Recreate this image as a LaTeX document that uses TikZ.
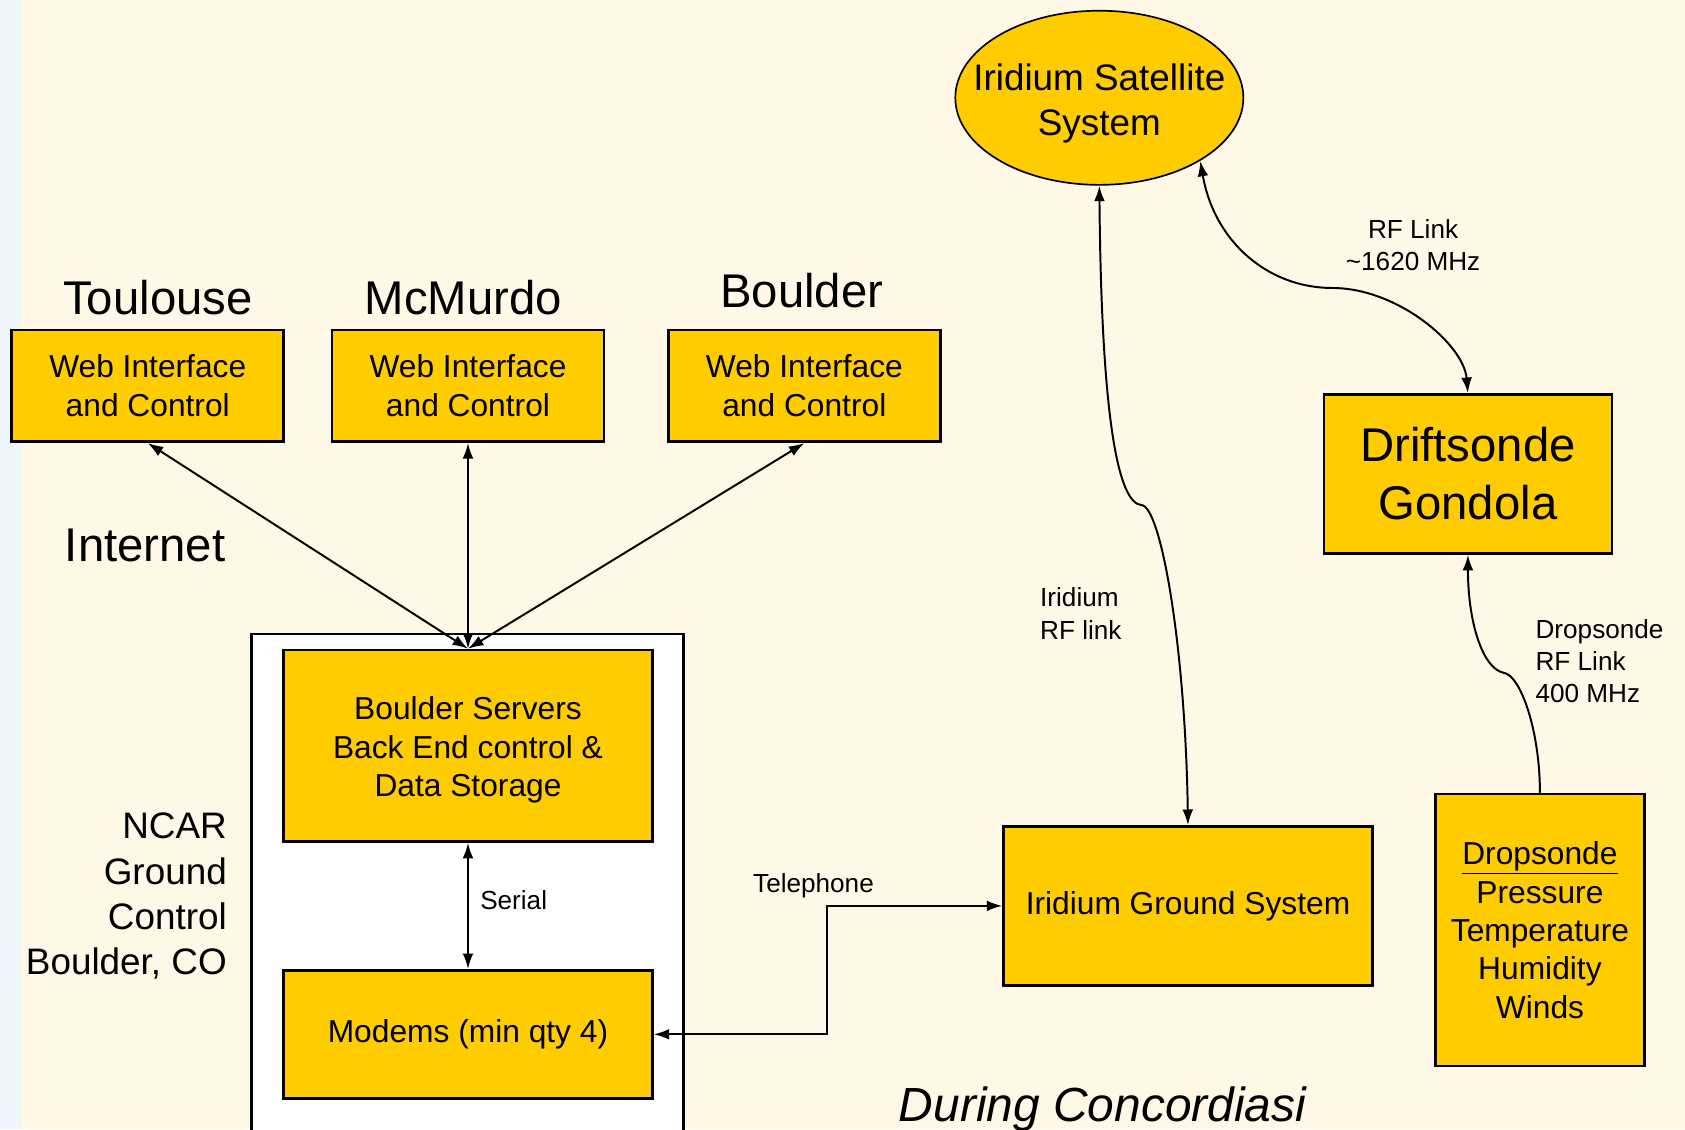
\documentclass[tikz,border=0pt]{standalone}
\usepackage{fontspec}
\setmainfont{Liberation Sans}
\usetikzlibrary{arrows.meta,shapes.geometric}
\definecolor{slidebg}{RGB}{255,248,231}
\definecolor{boxgold}{RGB}{255,204,0}
\definecolor{edgeblue}{RGB}{238,245,252}
\begin{document}
\begin{tikzpicture}[x=0.025cm, y=-0.025cm,
    box/.style={draw, fill=boxgold, line width=1.8pt, align=center, inner sep=0pt},
    link/.style={line width=1.3pt, {Latex[length=3.6mm,width=2.5mm]}-{Latex[length=3.6mm,width=2.5mm]}},
    uplink/.style={line width=1.3pt, -{Latex[length=3.6mm,width=2.5mm]}},
    txt/.style={font=\fontsize{21}{25.4}\selectfont},
    big/.style={font=\fontsize{31.3}{38}\selectfont},
    mid/.style={font=\fontsize{24.4}{29.9}\selectfont},
    small/.style={font=\fontsize{17.3}{21.3}\selectfont}]

            % slide background
            \useasboundingbox (0,0) rectangle (1568,1051);
            \fill[slidebg] (0,0) rectangle (1568,1051);
            \fill[edgeblue] (0,0) rectangle (20,1051);

            % sites on the internet
            \node[big] (tlsname) at (147,277) {Toulouse};
            \node[big] (mcmname) at (431,277) {McMurdo};
            \node[big] (bldname) at (746,270) {Boulder};
            \node[big] (inet) at (135,508) {Internet};

            \node[box, txt, minimum width=6.325cm, minimum height=2.6cm] (tls) at (137.5,359) {Web Interface\\and Control};
            \node[box, txt, minimum width=6.325cm, minimum height=2.6cm] (mcm) at (435.5,359) {Web Interface\\and Control};
            \node[box, txt, minimum width=6.325cm, minimum height=2.6cm] (bld) at (748.5,359) {Web Interface\\and Control};

            % NCAR ground control
            \draw[fill=white, line width=1.4pt] (234,590) rectangle (636,1070);
            \node[mid, align=right, anchor=east] (ncar) at (216,834) {NCAR\\Ground\\Control\\Boulder, CO};

            \node[box, txt, minimum width=8.575cm, minimum height=4.45cm] (srv) at (435.5,694) {\rule{0pt}{21pt}Boulder Servers\\Back End control \&\\Data Storage};
            \node[box, txt, minimum width=8.575cm, minimum height=2.975cm] (mdm) at (435.5,962.5) {Modems (min qty 4)};
            \node[small] (serial) at (478,838) {Serial};

            % iridium side
            \node[ellipse, draw, fill=boxgold, line width=1.1pt, minimum width=6.7cm, minimum height=4.05cm,
                  inner xsep=-18pt, inner ysep=0pt, align=center, mid] (sat) at (1023,91) {\rule{0pt}{25pt}Iridium Satellite\\System};
            \node[box, txt, minimum width=8.575cm, minimum height=3.7cm] (gnd) at (1105.5,843) {Iridium Ground System};
            \node[box, minimum width=6.7cm, minimum height=3.7cm, font=\fontsize{31.3}{38.4}\selectfont] (gond) at (1366,441) {Driftsonde\\Gondola};
            \node[box, txt, minimum width=4.85cm, minimum height=6.325cm] (drop) at (1433,865.5) {\underline{Dropsonde}\\Pressure\\Temperature\\Humidity\\Winds};

            \node[small] (tel) at (757,824) {Telephone};
            \node[small, align=left, anchor=west] (irl) at (963,571) {Iridium\\RF link};
            \node[small, align=center] (rfl) at (1315,228) {RF Link\\\textasciitilde1620 MHz};
            \node[small, align=left, anchor=west] (dsl) at (1424,615) {Dropsonde\\RF Link\\400 MHz};

            \node[font=\fontsize{31.7}{38}\selectfont\itshape, anchor=base] (during) at (1026,1044) {During Concordiasi};

            % connectors
            \draw[link] (tls.south) -- (srv.north);
            \draw[link] (mcm.south) -- (srv.north);
            \draw[link] (bld.south) -- (srv.north);
            \draw[link] (srv.south) -- (mdm.north);

            \coordinate (telbend) at (770,843);
            \draw[link] (mdm.east) -| (telbend) -- (gnd.west);

            \draw[link] (sat.south) .. controls (1025,400) and (1042,468) .. (1062,470)
                                    .. controls (1080,470) and (1103,600) .. (gnd.north);
            \draw[link] (sat.-32) .. controls (1130,225) and (1180,268) .. (1240,268)
                                  .. controls (1300,268) and (1362,320) .. (gond.north);
            \draw[uplink] (drop.north) .. controls (1433,680) and (1415,628) .. (1399,626)
                                       .. controls (1380,622) and (1366,580) .. (gond.south);
\end{tikzpicture}
\end{document}
